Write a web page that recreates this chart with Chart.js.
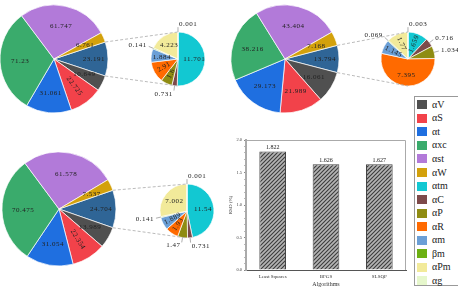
<!DOCTYPE html>
<html>
<head>
<meta charset="utf-8">
<script src="https://cdn.jsdelivr.net/npm/chart.js@4.4.0/dist/chart.umd.min.js"></script>
<style>
body{margin:0;width:458px;height:292px;overflow:hidden;background:#fff;position:relative;font-family:"Liberation Serif",serif}
canvas{position:absolute}
#legend{position:absolute;left:414px;top:96px;width:60px;height:190px;border:1px solid #999;box-sizing:border-box;padding-top:1px}
#legend div{display:flex;align-items:center;height:13.55px;font-size:10px;line-height:10px;color:#222;white-space:nowrap}
#legend span{display:block;width:10px;height:9px;margin:0 5px 0 2px;flex:none}
</style>
</head>
<body>
<div id="legend"></div>
<script>
// big pies: first slice is the grouped remainder exploded into the small pie
const bigLabels = ['Other', 'αV', 'αS', 'αt', 'αxc', 'αst', 'αW'];
const big1 = [23.191, 10.649, 22.725, 31.061, 71.23, 61.747, 6.761];
const big2 = [13.794, 16.061, 21.989, 29.173, 38.216, 43.404, 7.168];
const big3 = [24.704, 13.989, 22.354, 31.054, 70.475, 61.578, 7.537];

const smallLabels = ['αtm', 'αC', 'αP', 'αR', 'αm', 'βm', 'αPm', 'αg'];
const small1 = [11.701, 0.731, 1.6, 2.91, 1.884, 0.141, 4.223, 0.001];
const small2 = [1.659, 0.716, 1.034, 7.395, 1.145, 0.069, 1.77, 0.003];
const small3 = [11.54, 0.731, 1.47, 1.93, 1.889, 0.141, 7.002, 0.001];

const legendLabels = ['αV', 'αS', 'αt', 'αxc', 'αst', 'αW', 'αtm', 'αC', 'αP', 'αR', 'αm', 'βm', 'αPm', 'αg'];

const algorithms = ['Least Squares', 'BFGS', 'SLSQP'];
const rsdValues = [1.822, 1.626, 1.627];
const yTicks = [0.0, 0.5, 1.0, 1.5, 2.0];

const colors = {
  'Other': '#2f6596',
  'αV': '#505050', 'αS': '#f2424a', 'αt': '#1f6fe0', 'αxc': '#3aab6c', 'αst': '#b27ad9',
  'αW': '#d3a10c', 'αtm': '#12c8d2', 'αC': '#7d4a4a', 'αP': '#8f8c12', 'αR': '#ff6a00',
  'αm': '#6b9fd6', 'βm': '#6cb012', 'αPm': '#f2ea9a', 'αg': '#e6f7cc'
};

const LABEL_FONT = '7px "Liberation Serif"';

// legend
const legendEl = document.getElementById('legend');
legendLabels.forEach(l => {
  const d = document.createElement('div');
  d.innerHTML = `<span style="background:${colors[l]}"></span>${l}`;
  legendEl.appendChild(d);
});

function sliceLabels(cfg) {
  return {
    id: 'sliceLabels',
    afterDatasetsDraw(chart) {
      const ctx = chart.ctx;
      const vals = chart.data.datasets[0].data;
      ctx.save();
      ctx.font = LABEL_FONT;
      ctx.letterSpacing = '0.5px';
      ctx.fillStyle = '#222';
      ctx.textBaseline = 'middle';
      chart.getDatasetMeta(0).data.forEach((arc, i) => {
        const mid = (arc.startAngle + arc.endAngle) / 2;
        const r = arc.outerRadius;
        const dx = Math.cos(mid), dy = Math.sin(mid);
        const txt = String(vals[i]);
        if (cfg.out && cfg.out.includes(i)) {
          ctx.strokeStyle = '#777';
          ctx.lineWidth = 0.6;
          ctx.beginPath();
          ctx.moveTo(arc.x + dx * r, arc.y + dy * r);
          ctx.lineTo(arc.x + dx * r * 1.18, arc.y + dy * r * 1.18);
          ctx.stroke();
          const left = dx >= -0.05;
          ctx.textAlign = left ? 'left' : 'right';
          ctx.fillText(txt, arc.x + dx * r * 1.22 + (left ? 1 : -1), arc.y + dy * r * 1.3);
        } else {
          const d = r * (cfg.far && cfg.far.includes(i) ? 0.74 : cfg.dist);
          const x = arc.x + dx * d, y = arc.y + dy * d;
          ctx.save();
          ctx.translate(x, y);
          if (cfg.rot && cfg.rot.includes(i)) {
            let a = mid;
            if (Math.cos(a) < 0) a += Math.PI;
            ctx.rotate(a);
          }
          ctx.textAlign = 'center';
          ctx.fillText(txt, 0, 0);
          ctx.restore();
        }
      });
      ctx.restore();
    }
  };
}

function makePie(cx, cy, r, pad, labels, values, rotation, cfg) {
  const size = 2 * (r + pad);
  const c = document.createElement('canvas');
  c.width = size; c.height = size;
  c.style.left = (cx - size / 2) + 'px';
  c.style.top = (cy - size / 2) + 'px';
  document.body.appendChild(c);
  const chart = new Chart(c, {
    type: 'pie',
    data: {
      labels,
      datasets: [{
        data: values,
        backgroundColor: labels.map(l => colors[l]),
        borderColor: '#fff',
        borderWidth: 0.7,
        radius: r
      }]
    },
    options: {
      responsive: false,
      animation: false,
      events: [],
      rotation,
      layout: { padding: 0 },
      plugins: { legend: { display: false }, tooltip: { enabled: false } }
    },
    plugins: [sliceLabels(cfg)]
  });
  return { chart, canvas: c };
}

function sum(a) { return a.reduce((s, v) => s + v, 0); }
function bigRot(vals) { return 90 - vals[0] / sum(vals) * 180; }

const pairs = [
  [makePie(54, 59, 54, 2, bigLabels, big1, bigRot(big1), { dist: 0.63, far: [0], rot: [2] }),
   makePie(178, 59, 27, 26, smallLabels, small1, 0, { dist: 0.6, out: [1, 5, 7], rot: [2, 3] })],
  [makePie(285, 59, 54, 2, bigLabels, big2, bigRot(big2), { dist: 0.63, far: [0] }),
   makePie(408, 59, 27, 26, smallLabels, small2, 0, { dist: 0.6, out: [1, 2, 5, 7], rot: [0, 4, 6] })],
  [makePie(59, 209, 57, 2, bigLabels, big3, bigRot(big3), { dist: 0.63, far: [0], rot: [2] }),
   makePie(187, 211, 27, 26, smallLabels, small3, 0, { dist: 0.6, out: [1, 2, 5, 7], rot: [3, 4] })]
];

// bar chart with hatched fill
const hatchCanvas = document.createElement('canvas');
hatchCanvas.width = 4; hatchCanvas.height = 4;
const hc = hatchCanvas.getContext('2d');
hc.fillStyle = '#b4b4b4';
hc.fillRect(0, 0, 4, 4);
hc.strokeStyle = '#3c3c3c';
hc.lineWidth = 1.1;
hc.beginPath();
hc.moveTo(0, 4); hc.lineTo(4, 0);
hc.moveTo(-1, 1); hc.lineTo(1, -1);
hc.moveTo(3, 5); hc.lineTo(5, 3);
hc.stroke();

const barCanvas = document.createElement('canvas');
barCanvas.width = 182; barCanvas.height = 162;
barCanvas.style.left = '228px'; barCanvas.style.top = '130px';
document.body.appendChild(barCanvas);
const hatch = barCanvas.getContext('2d').createPattern(hatchCanvas, 'repeat');

const boxPlugin = {
  id: 'box',
  afterDraw(chart) {
    const { ctx, chartArea: a } = chart;
    ctx.save();
    ctx.strokeStyle = '#aaa';
    ctx.lineWidth = 1;
    ctx.beginPath();
    ctx.moveTo(a.left, a.top + 0.5); ctx.lineTo(a.right - 0.5, a.top + 0.5); ctx.lineTo(a.right - 0.5, a.bottom);
    ctx.stroke();
    ctx.font = '6px "Liberation Serif"';
    ctx.fillStyle = '#222';
    ctx.textAlign = 'center';
    ctx.textBaseline = 'bottom';
    chart.getDatasetMeta(0).data.forEach((bar, i) => {
      ctx.fillText(rsdValues[i].toFixed(3), bar.x, bar.y - 1);
    });
    ctx.restore();
  }
};

const isMajor = v => yTicks.some(t => Math.abs(t - v) < 1e-6);

new Chart(barCanvas, {
  type: 'bar',
  data: {
    labels: algorithms,
    datasets: [{
      data: rsdValues,
      backgroundColor: hatch,
      borderColor: '#444',
      borderWidth: 1,
      barPercentage: 0.5,
      categoryPercentage: 1
    }]
  },
  options: {
    responsive: false,
    animation: false,
    events: [],
    layout: { padding: { top: 10, right: 4, left: 0, bottom: 0 } },
    plugins: { legend: { display: false }, tooltip: { enabled: false } },
    scales: {
      x: {
        grid: { display: false, drawTicks: false },
        border: { color: '#555', width: 1 },
        ticks: { font: { family: 'Liberation Serif', size: 5 }, color: '#333', padding: 4, maxRotation: 0 },
        title: { display: true, text: 'Algorithms', font: { family: 'Liberation Serif', size: 6 }, color: '#333', padding: { top: 4, bottom: 4 } },
        afterFit(s) { s.height = 22; }
      },
      y: {
        min: 0, max: 2,
        border: { color: '#aaa', width: 2 },
        grid: {
          drawOnChartArea: false, tickLength: 2,
          tickColor: c => isMajor(c.tick.value) ? '#555' : '#999',
          tickWidth: 0.7
        },
        ticks: {
          stepSize: 0.1, autoSkip: false,
          font: { family: 'Liberation Serif', size: 4.5 }, color: '#444', padding: 2,
          callback: v => isMajor(v) ? v.toFixed(1) : ''
        },
        title: { display: true, text: 'RSD (%)', font: { family: 'Liberation Serif', size: 5 }, color: '#444', padding: 0 },
        afterFit(s) { s.width = 18; }
      }
    }
  },
  plugins: [boxPlugin]
});

// dashed connectors between the grouped slice and the small pie
const overlay = document.createElement('canvas');
overlay.width = 458; overlay.height = 292;
overlay.style.left = '0px'; overlay.style.top = '0px';
overlay.style.pointerEvents = 'none';
document.body.appendChild(overlay);
const octx = overlay.getContext('2d');
octx.strokeStyle = '#aaa';
octx.lineWidth = 0.8;
octx.setLineDash([3, 2]);
pairs.forEach(([big, small]) => {
  const arc = big.chart.getDatasetMeta(0).data[0];
  const bx = big.canvas.offsetLeft + arc.x, by = big.canvas.offsetTop + arc.y, br = arc.outerRadius;
  const s = small.chart.getDatasetMeta(0).data[0];
  const sx = small.canvas.offsetLeft + s.x, sy = small.canvas.offsetTop + s.y, sr = s.outerRadius;
  octx.beginPath();
  octx.moveTo(bx + Math.cos(arc.startAngle) * br, by + Math.sin(arc.startAngle) * br);
  octx.lineTo(sx, sy - sr);
  octx.moveTo(bx + Math.cos(arc.endAngle) * br, by + Math.sin(arc.endAngle) * br);
  octx.lineTo(sx, sy + sr);
  octx.stroke();
});
</script>
</body>
</html>
